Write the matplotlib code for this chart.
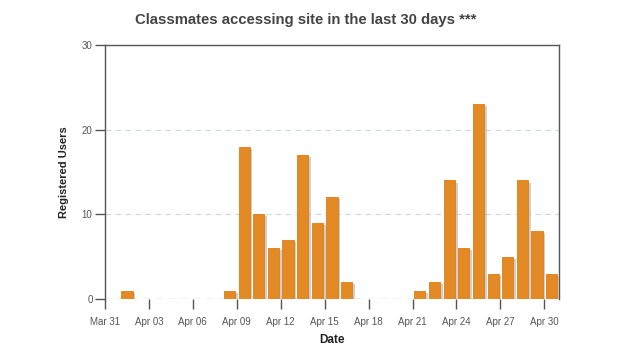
import datetime as dt
import matplotlib
matplotlib.use("Agg")
import matplotlib.pyplot as plt
import matplotlib.dates as mdates
import matplotlib.patheffects as pe

# daily registered users, Mar 31 .. Apr 30
start = dt.date(2014, 3, 31)
days = [start + dt.timedelta(days=i) for i in range(31)]
users = [0, 1, 0, 0, 0, 0, 0, 0, 1, 18, 10, 6, 7, 17, 9, 12, 2,
         0, 0, 0, 0, 1, 2, 14, 6, 23, 3, 5, 14, 8, 3]
tick_days = [start + dt.timedelta(days=3 * i) for i in range(11)]
y_ticks = [0, 10, 20, 30]

plt.rcParams['font.family'] = ['Liberation Sans', 'DejaVu Sans']

fig = plt.figure(figsize=(6.26, 3.57), dpi=100)
ax = fig.add_axes([105 / 626, 1 - 299 / 357, 454 / 626, 254 / 357])

bar_x = [mdates.date2num(d) + 0.12 for d in days]
shadow = pe.SimplePatchShadow(offset=(2, -1.5), shadow_rgbFace='#b0b0b0', alpha=0.6)
ax.bar(bar_x, users, width=0.76, align='edge', color='#e38a25',
       edgecolor='#e07d14', linewidth=0.6, zorder=3,
       path_effects=[shadow, pe.Normal()])

ax.set_xlim(mdates.date2num(start), mdates.date2num(start + dt.timedelta(days=31)))
ax.set_ylim(0, 30)
ax.set_yticks(y_ticks)
ax.set_xticks([mdates.date2num(d) for d in tick_days])
ax.set_xticklabels([d.strftime("%b %d") for d in tick_days])

ax.grid(axis='y', color='#cfd8d8', linestyle=(0, (5, 4)), linewidth=0.8, zorder=0)
ax.axhline(0, color='#aaaaaa', linestyle=(0, (6, 4)), linewidth=0.9, zorder=1)
ax.spines['bottom'].set_visible(False)
for s in ['left', 'top', 'right']:
    ax.spines[s].set_color('#555555')
    ax.spines[s].set_linewidth(1.0)

ax.tick_params(axis='both', colors='#555555', labelsize=7, labelcolor='#555555',
               length=7, width=1.0, direction='out')
ax.tick_params(axis='x', pad=6)
ax.tick_params(axis='y', pad=2)

ax.set_ylabel("Registered Users", fontsize=8, fontweight='bold', color='#222222', labelpad=9)
ax.set_xlabel("Date", fontsize=8.5, fontweight='bold', color='#222222', labelpad=5)

fig.text(306 / 626, 1 - 20 / 357, "Classmates accessing site in the last 30 days ***",
         ha='center', va='center', fontsize=10.7, fontweight='bold', color='#444444')

fig.savefig("out.png", dpi=100)
